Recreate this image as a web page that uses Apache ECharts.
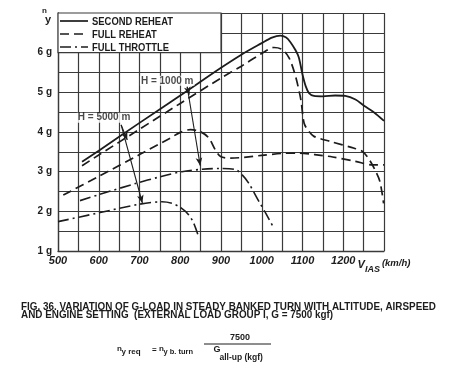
<!DOCTYPE html>
<html><head><meta charset="utf-8">
<script src="https://cdn.jsdelivr.net/npm/echarts@6/dist/echarts.min.js"></script>
<style>html,body{margin:0;padding:0;background:#fff}#c{width:452px;height:370px}</style>
</head><body><div id="c"></div>
<script>
// ---- data (V_IAS km/h, n_y g) ----
const secondReheat1000 = [[559,3.25],[600,3.53],[700,4.23],[800,4.92],[900,5.62],[950,5.95],[1000,6.24],[1025,6.38],[1046,6.43],[1060,6.38],[1070,6.27],[1083,6.06],[1091,5.88],[1100,5.45],[1108,5.15],[1116,4.98],[1128,4.91],[1150,4.9],[1180,4.92],[1205,4.91],[1230,4.82],[1251,4.66],[1275,4.5],[1300,4.28]];
const fullReheat1000 = [[559,3.15],[600,3.42],[700,4.07],[800,4.72],[900,5.36],[950,5.66],[1000,5.98],[1030,6.13],[1050,6.08],[1067,5.87],[1083,5.4],[1096,4.81],[1104,4.22],[1116,4.01],[1128,3.89],[1169,3.76],[1227,3.59],[1247,3.51],[1264,3.3],[1280,3.0],[1290,2.75],[1299,2.2]];
const fullReheat5000 = [[513,2.41],[600,2.88],[700,3.43],[776,3.85],[800,3.99],[825,4.06],[849,4.01],[870,3.85],[886,3.55],[899,3.38],[923,3.34],[1000,3.41],[1050,3.46],[1091,3.47],[1130,3.43],[1174,3.37],[1230,3.26],[1272,3.17],[1300,3.17]];
const fullThrottle1000 = [[554,2.27],[600,2.42],[690,2.7],[750,2.87],[804,3.0],[854,3.06],[900,3.08],[936,3.05],[952,2.92],[968,2.71],[993,2.25],[1010,1.95],[1030,1.57]];
const fullThrottle5000 = [[500,1.74],[595,1.95],[700,2.18],[755,2.24],[780,2.2],[800,2.1],[821,1.91],[833,1.7],[845,1.36]];
const legendNames = ['SECOND REHEAT','FULL REHEAT','FULL THROTTLE'];
const xTicks = [500,600,700,800,900,1000,1100,1200];
const yTicks = [1,2,3,4,5,6];
// annotation arrows (data coords): [from, to]
const arrows5000 = [[[655,4.18],[670,3.80]],[[655,4.18],[707,2.21]]];
const arrows1000 = [[[817,5.14],[822,4.94]],[[817,5.14],[849,3.15]]];
const hLabels = [{value:[768,5.29],name:'H = 1000 m'},{value:[613,4.36],name:'H = 5000 m'}];

const INK = '#1c1c1c', GRID = '#3a3a3a';
const FONT = '"Liberation Sans", Arial, sans-serif';
const DASH = [9,5], DASHDOT = [11,4,2,4];
const solid = {color:INK,width:1.8,type:'solid'};
const dashed = {color:INK,width:1.7,type:DASH};
const dashdot = {color:INK,width:1.6,type:DASHDOT};

function lineSeries(name, data, ls, extra){
  return Object.assign({type:'line',name,data,showSymbol:false,symbol:'none',smooth:0.3,
    lineStyle:ls,itemStyle:{color:INK},emphasis:{disabled:true},silent:true,z:3}, extra||{});
}
function arrowData(list){
  return list.map(a=>[{coord:a[0],symbol:'none'},{coord:a[1],symbol:'arrow'}]);
}

const chart = echarts.init(document.getElementById('c'),null,{renderer:'canvas'});
const option = {
  animation:false,
  backgroundColor:'#fff',
  grid:{left:58,right:68,top:13,bottom:119},
  xAxis:{type:'value',min:500,max:1300,interval:50,
    axisLine:{show:true,lineStyle:{color:GRID,width:1.3}},axisTick:{show:false},
    splitLine:{show:true,lineStyle:{color:GRID,width:1.2}},
    axisLabel:{showMaxLabel:true,showMinLabel:true,margin:4,color:INK,fontFamily:FONT,fontWeight:'bold',fontStyle:'italic',fontSize:11,
      formatter:v=> v===1300 ? '{v|V}{s|IAS}{k|(km/h)}' : (xTicks.includes(v)? String(v):''),
      rich:{v:{fontFamily:FONT,fontSize:11,fontWeight:'bold',color:INK,verticalAlign:'middle',lineHeight:20,padding:[0,0,0,0]},
            s:{fontFamily:FONT,fontSize:9,fontWeight:'bold',color:INK,padding:[9,2,0,0],lineHeight:20},
            k:{fontFamily:FONT,fontSize:9.5,fontWeight:'bold',color:INK,padding:[0,0,4,0],lineHeight:20}}}},
  yAxis:{type:'value',min:1,max:7,interval:0.5,
    axisLine:{show:true,lineStyle:{color:GRID,width:1.3}},axisTick:{show:false},
    splitLine:{show:true,lineStyle:{color:GRID,width:1.2}},
    axisLabel:{margin:6,color:INK,fontFamily:FONT,fontWeight:'bold',fontSize:10,
      formatter:v=> yTicks.includes(v)? v+' g':''}},
  series:[
    lineSeries(legendNames[0],secondReheat1000,solid,{
      markArea:{silent:true,itemStyle:{color:'#fff',borderColor:GRID,borderWidth:1.2},
        data:[[{xAxis:500,yAxis:6},{xAxis:900,yAxis:7}]]}}),
    lineSeries(legendNames[1],fullReheat1000,dashed),
    lineSeries(legendNames[1],fullReheat5000,dashed),
    lineSeries(legendNames[2],fullThrottle1000,dashdot),
    lineSeries(legendNames[2],fullThrottle5000,dashdot),
    {type:'scatter',name:'ann',data:hLabels,symbolSize:0,silent:true,z:4,
      label:{show:true,formatter:p=>p.name,position:'inside',fontFamily:FONT,fontWeight:'bold',fontSize:10,color:INK,
        backgroundColor:'#fff',padding:[0,1]},
      markLine:{silent:true,symbolSize:[5,8],label:{show:false},lineStyle:{color:INK,width:1.1,type:'solid'},
        data:arrowData(arrows5000).concat(arrowData(arrows1000))}}
  ]
};
chart.setOption(option);

// texts and legend key outside the data marks
const cv = document.createElement('canvas').getContext('2d');
function fit(text,font,w){cv.font=font;return w/cv.measureText(text).width;}
const capFont = 'bold 10px '+FONT;
const cap1 = 'FIG. 36. VARIATION OF G-LOAD IN STEADY BANKED TURN WITH ALTITUDE, AIRSPEED';
const cap2 = 'AND ENGINE SETTING  (EXTERNAL LOAD GROUP I, G = 7500 kgf)';
const sc = fit(cap1,capFont,415);
const legFont = 'bold 11px '+FONT;
const lsc = fit(legendNames[0],legFont,81);
function T(x,y,text,size,opts){
  return Object.assign({type:'text',x,y,silent:true,z:10,style:{text,font:'bold '+size+'px '+FONT,fill:INK,verticalAlign:'middle',align:'left'}},opts||{});
}
const legendStyles = [null, DASH, DASHDOT];
const legendG = [];
legendNames.forEach((n,i)=>{
  const y = 21 + i*13;
  legendG.push({type:'line',silent:true,z:10,shape:{x1:60,y1:y,x2:88,y2:y},
    style:{stroke:INK,lineWidth:1.7,lineDash:legendStyles[i]||null}});
  legendG.push(T(92,y+0.5,n,11,{scaleX:lsc}));
});
chart.setOption({graphic:legendG.concat([
  T(42,11,'n',8),
  T(45,20,'y',11),
  T(21,307,cap1,10,{scaleX:sc}),
  T(21,315.5,cap2,10,{scaleX:sc}),
  T(117,348.5,'n',8),
  T(121.5,352,'y req',8),
  T(152,350,'=',8),
  T(159,348.5,'n',8),
  T(163.5,352,'y b. turn',7.5),
  T(213.5,350,'G',9),
  T(219.5,357.5,'all-up (kgf)',8.5),
  {type:'text',x:240,y:338,silent:true,style:{text:'7500',font:'bold 9px '+FONT,fill:INK,align:'center',verticalAlign:'middle'}},
  {type:'line',silent:true,shape:{x1:204,y1:344,x2:271,y2:344},style:{stroke:INK,lineWidth:1}}
])});
</script></body></html>
